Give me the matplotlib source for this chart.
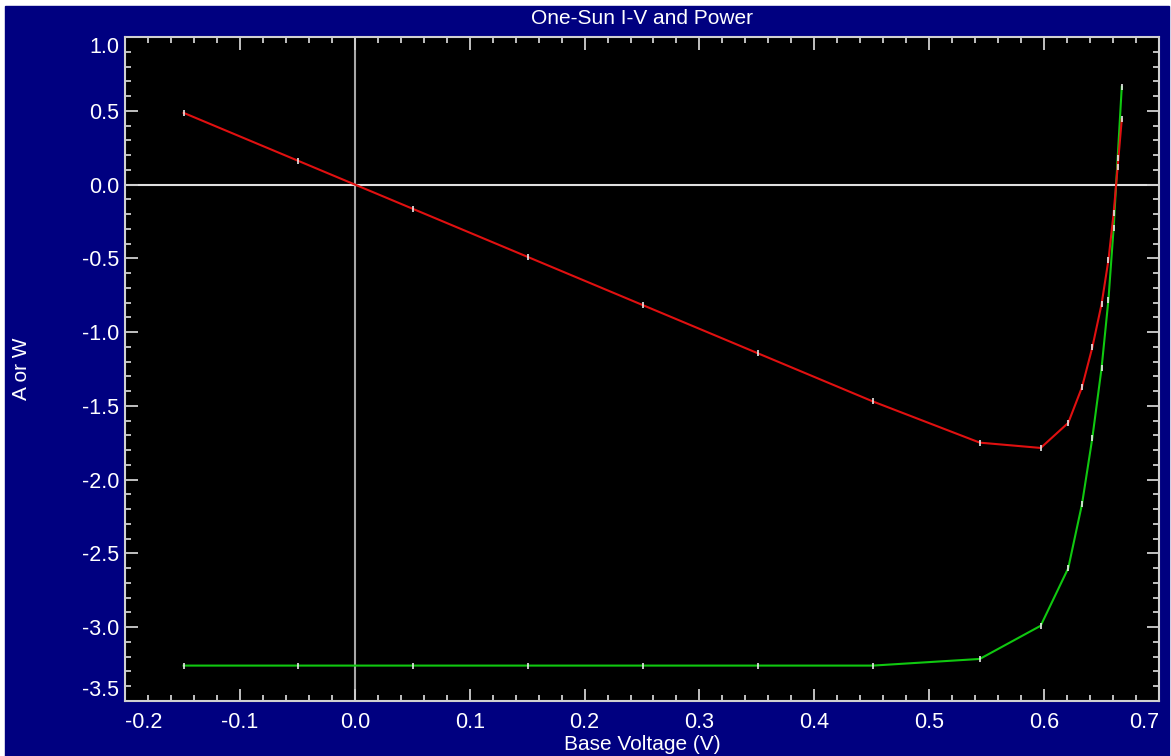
import matplotlib.pyplot as plt
from matplotlib.patches import Rectangle
from matplotlib.ticker import MultipleLocator

plt.rcParams['font.family'] = ['Liberation Sans', 'DejaVu Sans']

# base voltage (V), current (A) and power (W)
voltage = [-0.149, -0.049, 0.051, 0.151, 0.251, 0.351, 0.451, 0.544, 0.597,
           0.621, 0.633, 0.642, 0.650, 0.656, 0.6605, 0.664, 0.6676]
current = [-3.26, -3.26, -3.26, -3.26, -3.26, -3.26, -3.26, -3.215, -2.99,
           -2.60, -2.165, -1.716, -1.245, -0.779, -0.295, 0.178, 0.663]
power = [0.486, 0.160, -0.166, -0.492, -0.818, -1.144, -1.470, -1.749, -1.785,
         -1.615, -1.373, -1.102, -0.811, -0.511, -0.195, 0.118, 0.443]

x_ticks = [-0.2, -0.1, 0.0, 0.1, 0.2, 0.3, 0.4, 0.5, 0.6, 0.7]
y_ticks = [1.0, 0.5, 0.0, -0.5, -1.0, -1.5, -2.0, -2.5, -3.0, -3.5]

navy = '#000080'
W, H = 1171, 756

fig = plt.figure(figsize=(W / 100, H / 100), dpi=100, facecolor='white')
fig.patches.append(Rectangle((5 / W, 0), (1169 - 5) / W, (H - 6) / H,
                             transform=fig.transFigure, color=navy, zorder=-10))

ax = fig.add_axes([125 / W, 1 - 701 / H, (1159 - 125) / W, (701 - 37) / H])
ax.set_facecolor('black')
ax.set_xlim(-0.2, 0.7)
ax.set_ylim(-3.5, 1.0)

ax.axvline(0, color='#a8a8a8', lw=1.5, zorder=1)
ax.axhline(0, color='#e0e0e0', lw=1.5, zorder=1)

ax.plot(voltage, current, color='#10c810', lw=1.5, zorder=3)
ax.plot(voltage, power, color='#e01010', lw=1.5, zorder=3)
ax.plot(voltage, current, ls='none', marker='|', ms=4, mew=1.2, color='#e8e8e8', zorder=4)
ax.plot(voltage, power, ls='none', marker='|', ms=4, mew=1.2, color='#e8e8e8', zorder=4)

for s in ax.spines.values():
    s.set_color('#d0d0d0')
    s.set_linewidth(1.5)

ax.set_xticks(x_ticks)
ax.set_yticks(y_ticks)
ax.xaxis.set_minor_locator(MultipleLocator(0.02))
ax.yaxis.set_minor_locator(MultipleLocator(0.1))
ax.tick_params(which='both', direction='in', top=True, right=True,
               color='#d0d0d0', width=1.3, labelcolor='white', labelsize=15.5)
ax.tick_params(which='major', length=9)
ax.tick_params(axis='x', which='major', pad=8)
ax.tick_params(axis='y', which='major', pad=4)
ax.tick_params(which='minor', length=4.5)
ax.set_xticklabels([f'{v:.1f}' for v in x_ticks])
ax.set_yticklabels([f'{v:.1f}' for v in y_ticks])

xl = ax.get_xticklabels()
xl[0].set_ha('left')
xl[-1].set_ha('right')
yl = ax.get_yticklabels()
yl[0].set_va('top')
yl[-1].set_va('bottom')

ax.text(0.5, 1 + 19 / 664, 'One-Sun I-V and Power', transform=ax.transAxes,
        color='white', fontsize=15, ha='center', va='center')
ax.set_xlabel('Base Voltage (V)', color='white', fontsize=15, va='center')
ax.xaxis.set_label_coords(0.5, -44 / 664)
ax.set_ylabel('A or W', color='white', fontsize=15, va='center')
ax.yaxis.set_label_coords(-103 / 1034, 0.5)

fig.savefig('out.png', dpi=100, facecolor=fig.get_facecolor())
